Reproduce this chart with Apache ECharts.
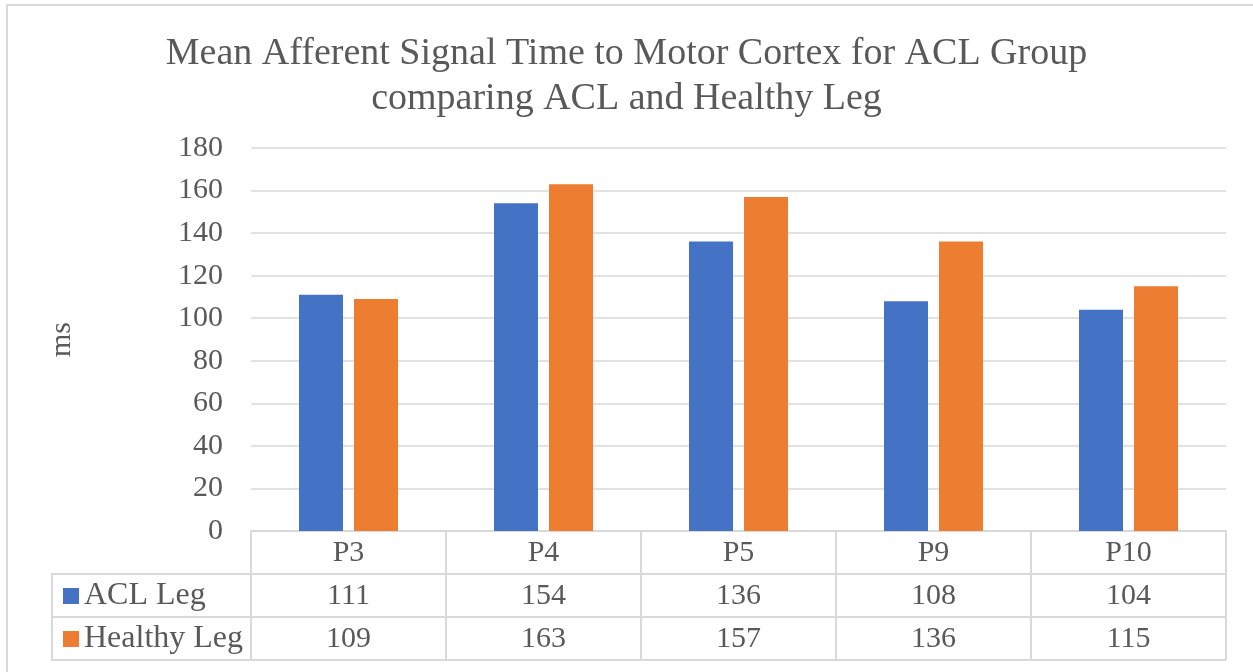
<!DOCTYPE html>
<html>
<head>
<meta charset="utf-8">
<script src="https://cdn.jsdelivr.net/npm/echarts@6/dist/echarts.min.js"></script>
<style>
html, body { margin: 0; padding: 0; background: #fff; }
#main { width: 1253px; height: 672px; }
</style>
</head>
<body>
<div id="main"></div>
<script>
// data
var categories = ['P3', 'P4', 'P5', 'P9', 'P10'];
var aclLeg = [111, 154, 136, 108, 104];
var healthyLeg = [109, 163, 157, 136, 115];
var seriesNames = ['ACL Leg', 'Healthy Leg'];

var FONT = "'Liberation Serif', 'Times New Roman', serif";
var TXT = '#595959';
var LINE = '#d9d9d9';
// plot + table layout
var gLeft = 251, gRight = 1226, gTop = 148, gBottom = 531, rowH = 43, tableLeft = 52;

var myChart = echarts.init(document.getElementById('main'));

function tableAxis(offset, labels) {
    return {
        type: 'category',
        position: 'bottom',
        offset: offset,
        data: categories,
        axisLine: { show: true, lineStyle: { color: LINE, width: 2 } },
        axisTick: { show: true, length: rowH, lineStyle: { color: LINE, width: 2 } },
        axisLabel: {
            fontSize: 30, fontFamily: FONT, color: TXT,
            verticalAlign: 'middle', margin: 22,
            formatter: function (v, i) { return labels ? String(labels[i]) : v; }
        },
        splitLine: { show: false }
    };
}

var option = {
    backgroundColor: '#fff',
    title: {
        text: 'Mean Afferent Signal Time to Motor Cortex for ACL Group\ncomparing ACL and Healthy Leg',
        left: 'center',
        top: 27,
        textStyle: { fontFamily: FONT, fontSize: 38, fontWeight: 'normal', color: TXT, lineHeight: 45 }
    },
    legend: {
        orient: 'vertical',
        left: 63,
        top: 580,
        padding: 0,
        itemWidth: 16,
        itemHeight: 16,
        itemGap: 11,
        icon: 'rect',
        data: seriesNames,
        textStyle: { fontFamily: FONT, fontSize: 32, color: TXT, lineHeight: 32 }
    },
    grid: { left: gLeft, right: 1253 - gRight, top: gTop, bottom: 672 - gBottom },
    xAxis: [
        tableAxis(0, null),
        tableAxis(rowH, aclLeg),
        tableAxis(rowH * 2, healthyLeg)
    ],
    yAxis: {
        type: 'value',
        min: 0,
        max: 180,
        interval: 20,
        name: 'ms',
        nameLocation: 'middle',
        nameGap: 174,
        nameTextStyle: { fontFamily: FONT, fontSize: 30, color: TXT },
        axisLine: { show: false },
        axisTick: { show: false },
        axisLabel: { fontFamily: FONT, fontSize: 30, color: TXT, margin: 28 },
        splitLine: { lineStyle: { color: LINE, width: 1.5 } }
    },
    series: [
        {
            name: seriesNames[0],
            type: 'bar',
            xAxisIndex: 0,
            barWidth: 44,
            barGap: '25%',
            itemStyle: { color: '#4472C4' },
            data: aclLeg
        },
        {
            name: seriesNames[1],
            type: 'bar',
            xAxisIndex: 0,
            barWidth: 44,
            barGap: '25%',
            itemStyle: { color: '#ED7D31' },
            data: healthyLeg
        }
    ],
    graphic: [
        // outer chart border
        { type: 'rect', shape: { x: 7, y: 5, width: 1260, height: 690 }, style: { fill: 'none', stroke: LINE, lineWidth: 2 }, silent: true },
        // legend column of the data table
        { type: 'polyline', shape: { points: [[gLeft, gBottom + rowH], [tableLeft, gBottom + rowH], [tableLeft, gBottom + rowH * 3], [gRight, gBottom + rowH * 3]] }, style: { fill: 'none', stroke: LINE, lineWidth: 2 }, silent: true },
        { type: 'line', shape: { x1: tableLeft, y1: gBottom + rowH * 2, x2: gLeft, y2: gBottom + rowH * 2 }, style: { stroke: LINE, lineWidth: 2 }, silent: true }
    ]
};

myChart.setOption(option);
</script>
</body>
</html>
